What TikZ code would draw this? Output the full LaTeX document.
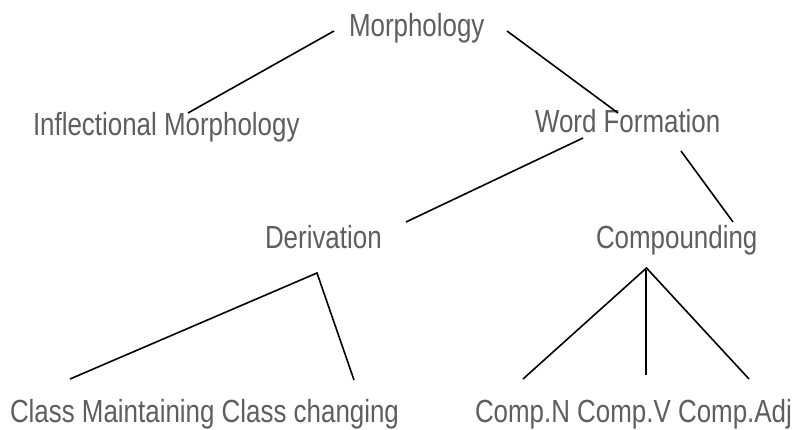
\documentclass[tikz,border=0pt]{standalone}
\usepackage{fontspec}
\setmainfont[FakeStretch=0.81]{Liberation Sans}
\definecolor{txtgray}{HTML}{5E5E5E}
\begin{document}
\begin{tikzpicture}[x=1pt,y=-1pt,
  lbl/.style={anchor=base west,inner sep=0pt,outer sep=0pt,text=txtgray,font=\fontsize{32}{38}\selectfont},
  conn/.style={draw=black,line width=1.6pt}]
\useasboundingbox[fill=white] (0,0) rectangle (793,430);
% labels
\node[lbl] (morph) at (349,37) {Morphology};
\node[lbl] (infl) at (33,136) {Inflectional Morphology};
\node[lbl] (wf) at (535,133) {Word Formation};
\node[lbl] (deriv) at (265,249) {Derivation};
\node[lbl] (comp) at (596,249) {Compounding};
\node[lbl] (class) at (10,423) {Class Maintaining Class changing};
\node[lbl] (cnva) at (475,423) {Comp.N Comp.V Comp.Adj};
% connector end points
\coordinate (m1) at (334,31);
\coordinate (i1) at (188,113);
\coordinate (m2) at (507,31);
\coordinate (w1) at (618,113);
\coordinate (w2) at (583,138);
\coordinate (d1) at (406,222);
\coordinate (w3) at (681,151);
\coordinate (c1) at (733,222);
\coordinate (dtop) at (317,273);
\coordinate (cm) at (70,379);
\coordinate (cc) at (354,380);
\coordinate (ctop) at (646.5,268);
\coordinate (vtop) at (646,270);
\coordinate (cn) at (523,379);
\coordinate (cv) at (646,375);
\coordinate (ca) at (749,379);
% connectors
\draw[conn] (m1) -- (i1);
\draw[conn] (m2) -- (w1);
\draw[conn] (w2) -- (d1);
\draw[conn] (w3) -- (c1);
\draw[conn] (cm) -- (dtop) -- (cc);
\draw[conn] (cn) -- (ctop) -- (ca);
\draw[conn] (vtop) -- (cv);
\end{tikzpicture}
\end{document}
